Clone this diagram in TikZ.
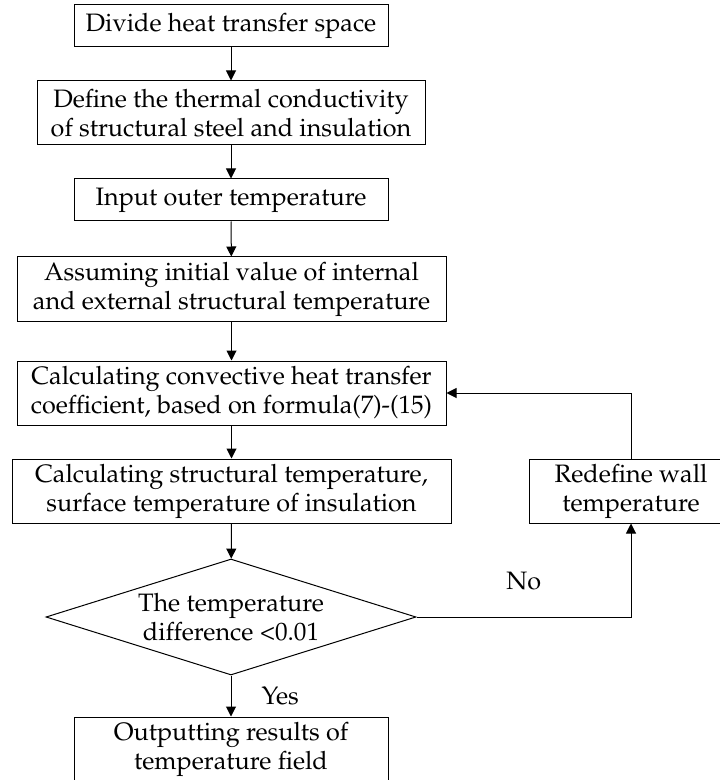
\documentclass[tikz,border=0pt]{standalone}
\usepackage[T1]{fontenc}
\usepackage{mathpazo}
\usetikzlibrary{shapes.geometric,arrows.meta}

\tikzset{
  stepbox/.style={draw, line width=0.5pt, align=center, inner sep=0pt,
    font=\fontsize{12.6}{14.5}\selectfont},
  flow/.style={-{Triangle[length=5pt,width=5pt]}, line width=0.5pt},
  tag/.style={inner sep=0pt, font=\fontsize{12.6}{14.5}\selectfont},
}

\begin{document}
\begin{tikzpicture}[x=0.5pt,y=-0.5pt]
  % Fix the page to the picture size
  \useasboundingbox (0,0) rectangle (719,780);

  % Draw the steps of the main column
  \node[stepbox, minimum width=157pt, minimum height=21pt] (div) at (231,26) {Divide heat transfer space};
  \node[stepbox, minimum width=194pt, minimum height=32pt] (cond) at (231,113) {Define the thermal conductivity\\of structural steel and insulation};
  \node[stepbox, minimum width=157pt, minimum height=21pt] (outer) at (231,200) {Input outer temperature};
  \node[stepbox, minimum width=214.5pt, minimum height=32pt] (init) at (231.5,289) {Assuming initial value of internal\\and external structural temperature};
  \node[stepbox, minimum width=214.5pt, minimum height=32pt] (conv) at (231.5,393) {Calculating convective heat transfer\\coefficient, based on formula(7)-(15)};
  \node[stepbox, minimum width=219.5pt, minimum height=32pt] (struc) at (231.5,491) {Calculating structural temperature,\\surface temperature of insulation};
  \node[stepbox, diamond, aspect=3.2, minimum width=185pt, minimum height=58pt] (check) at (231,617) {The temperature\\difference \textless0.01};
  \node[stepbox, minimum width=157pt, minimum height=32pt] (result) at (231,749) {Outputting results of\\temperature field};

  % Draw the step on the loop back
  \node[stepbox, minimum width=102pt, minimum height=32pt] (redef) at (631,491) {Redefine wall\\temperature};

  % Draw the arrows
  \draw[flow] (div) -- (cond);
  \draw[flow] (cond) -- (outer);
  \draw[flow] (outer) -- (init);
  \draw[flow] (init) -- (conv);
  \draw[flow] (conv) -- (struc);
  \draw[flow] (struc) -- (check);
  \draw[flow] (check) -- node[tag, right=15pt] {Yes} (result);
  \draw[flow] (check.east) -| node[tag, pos=0.25, above=13pt] {No} (redef.south);
  \draw[flow] (redef.north) |- (conv.east);
\end{tikzpicture}
\end{document}
